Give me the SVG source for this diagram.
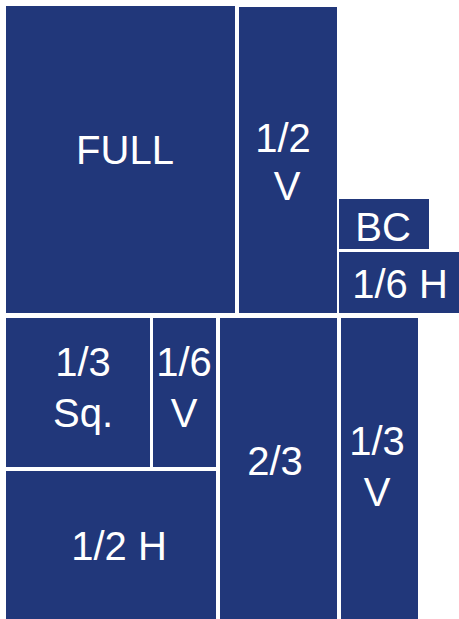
<svg xmlns="http://www.w3.org/2000/svg" width="459" height="619" viewBox="0 0 459 619">
<style>
.b{fill:#21377a}
text{fill:#fff;font-family:"Liberation Sans",Arial,sans-serif;font-size:40px;text-anchor:middle}
</style>
<rect width="459" height="619" fill="#fff"/>
<g id="full"><rect class="b" x="6" y="6" width="229" height="307"/><text x="125" y="164">FULL</text></g>
<g id="half-v"><rect class="b" x="239" y="7" width="98" height="306"/><text x="283" y="152">1/2</text><text x="287" y="200">V</text></g>
<g id="bc"><rect class="b" x="339" y="199" width="90" height="50"/><text x="383" y="241">BC</text></g>
<g id="sixth-h"><rect class="b" x="339" y="252" width="120" height="61"/><text x="400" y="298">1/6 H</text></g>
<g id="third-sq"><rect class="b" x="6" y="318" width="144" height="149"/><text x="83" y="376">1/3</text><text x="83" y="427">Sq.</text></g>
<g id="sixth-v"><rect class="b" x="153" y="318" width="63" height="149"/><text x="184" y="376">1/6</text><text x="184" y="427">V</text></g>
<g id="half-h"><rect class="b" x="6" y="471" width="210" height="148"/><text x="119" y="560">1/2 H</text></g>
<g id="two-thirds"><rect class="b" x="220" y="318" width="117" height="301"/><text x="275" y="475">2/3</text></g>
<g id="third-v"><rect class="b" x="341" y="318" width="77" height="301"/><text x="377" y="455">1/3</text><text x="377" y="506">V</text></g>
<g id="connectors"></g>
</svg>
